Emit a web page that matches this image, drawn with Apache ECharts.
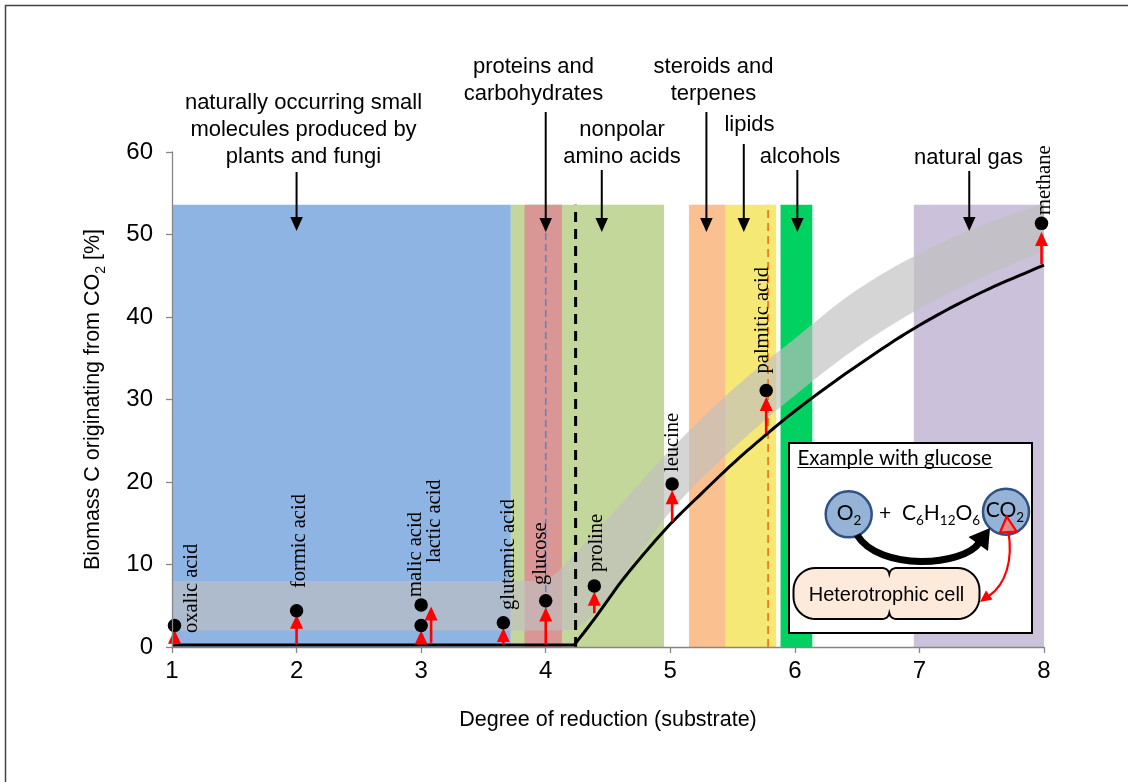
<!DOCTYPE html>
<html><head><meta charset="utf-8">
<script src="https://cdn.jsdelivr.net/npm/echarts@6/dist/echarts.min.js"></script>
<style>html,body{margin:0;padding:0;background:#fff}#c{width:1128px;height:782px}</style>
</head><body><div id="c"></div>
<script>
// ---------------- data ----------------
const xTicks = [1, 2, 3, 4, 5, 6, 7, 8];
const yTicks = [0, 10, 20, 30, 40, 50, 60];

// coloured compound-class bands (degree of reduction ranges)
const bandNames = ['small molecules', 'nonpolar amino acids', 'proteins and carbohydrates', 'steroids and terpenes', 'lipids', 'alcohols', 'natural gas'];
const bandStart = [1.0, 3.72, 3.83, 5.15, 5.445, 5.885, 6.955];
const bandEnd   = [3.72, 4.95, 4.13, 5.445, 5.85, 6.14, 8.0];
const bandTop = 53.6;

// group annotations (text above the plot, arrow x in degree of reduction)
const groupLabels = ['naturally occurring small\nmolecules produced by\nplants and fungi', 'proteins and\ncarbohydrates', 'nonpolar\namino acids', 'steroids and\nterpenes', 'lipids', 'alcohols', 'natural gas'];
const groupArrowX = [2.0, 4.0, 4.45, 5.29, 5.59, 6.02, 7.40];

// vertical reference lines: glucose, threshold, palmitic acid
const refLineX = [4.0, 4.24, 5.785];

// theoretical curve (black line)
const theoryX = [1.0, 4.23, 4.4, 4.6, 4.8, 5.0, 5.25, 5.5, 5.75, 6.0, 6.5, 7.0, 7.5, 8.0];
const theoryY = [0.25, 0.25, 3.6, 7.8, 11.5, 14.9, 18.6, 22.2, 25.5, 28.6, 34.1, 39.0, 43.0, 46.3];

// grey uncertainty band
const greyX     = [1.0, 3.95, 4.05, 4.2, 4.35, 4.5, 4.75, 5.0, 5.5, 6.0, 6.5, 7.0, 7.5, 8.0];
const greyUpper = [8.0, 8.0, 8.6, 10.8, 13.2, 15.6, 19.8, 23.9, 31.2, 37.4, 43.3, 47.7, 51.1, 53.8];
const greyLower = [2.0, 2.0, 2.0, 2.1, 3.5, 6.0, 11.3, 16.4, 24.0, 30.5, 36.3, 41.0, 44.8, 48.0];

// substrates (black dots)
const substrates = ['oxalic acid', 'formic acid', 'malic acid', 'lactic acid', 'glutamic acid', 'glucose', 'proline', 'leucine', 'palmitic acid', 'methane'];
const substrateX = [1.02, 2.0, 3.0, 3.0, 3.66, 4.0, 4.39, 5.015, 5.77, 7.98];
const substrateY = [2.6, 4.4, 5.1, 2.6, 2.95, 5.6, 7.4, 19.75, 31.1, 51.35];

// red arrows (from -> to)
const arrowX    = [1.02, 2.0, 3.0, 3.08, 3.66, 4.0, 4.39, 5.015, 5.77, 7.98];
const arrowFrom = [0.3, 0.3, 0.65, 0.5, 0.3, 0.3, 4.1, 15.2, 25.9, 46.4];
const arrowTo   = [2.1, 3.9, 2.0, 4.9, 2.3, 4.8, 6.7, 19.0, 30.3, 50.3];

// ---------------- styles / layout ----------------
const SANS = '"Liberation Sans", Arial, sans-serif';
const SERIF = '"Liberation Serif", "Times New Roman", serif';
const CAL = 'Lato, "Open Sans", sans-serif';
const bandColors = ['#8EB4E3', '#C4D79B', '#D99694', '#FAC090', '#F6E874', '#00D160', '#CCC1DA'];
const refLineStyles = [
  {color: '#4F86D0', width: 1.5, type: [7, 4]},
  {color: '#000000', width: 3, type: [10, 7]},
  {color: '#E46C0A', width: 1.5, type: [8, 5]}
];
const labelOffsets = [[17.5, 7.5], [3.4, -22.7], [-6, -8], [13, -62.5], [5.6, -12.7], [-4.7, -15.8], [2.7, -14], [0, -12], [-4, -17], [3.5, -8.4]];
const groupTextLayout = [ // [centre x px, centre y px, arrow top px, arrow tip px]
  [303.5, 130, 172, 231], [533.5, 80, 112, 232], [622, 143.5, 170, 232], [713.5, 80, 112, 232],
  [749.5, 125, 144, 232], [800, 157, 170, 232], [968.5, 158, 171, 231]
];

function arrowEls(x0, y0, x1, y1, color, lw, hl, hw, z) {
  const dx = x1 - x0, dy = y1 - y0, L = Math.hypot(dx, dy) || 1, ux = dx / L, uy = dy / L;
  const bx = x1 - ux * hl, by = y1 - uy * hl, px = -uy, py = ux;
  return [
    {type: 'line', z: z, silent: true, shape: {x1: x0, y1: y0, x2: bx + ux, y2: by + uy}, style: {stroke: color, lineWidth: lw}},
    {type: 'polygon', z: z, silent: true, shape: {points: [[x1, y1], [bx + px * hw / 2, by + py * hw / 2], [bx - px * hw / 2, by - py * hw / 2]]}, style: {fill: color}}
  ];
}

// monotone cubic sampling of a y(x) curve (rendering only; passes through the read points)
function monotoneSample(xs, ys, steps) {
  const n = xs.length, d = [], m = [];
  for (let k = 0; k < n - 1; k++) d.push((ys[k + 1] - ys[k]) / (xs[k + 1] - xs[k]));
  m[0] = d[0]; m[n - 1] = d[n - 2];
  for (let k = 1; k < n - 1; k++) m[k] = (d[k - 1] * d[k] <= 0) ? 0 : 2 / (1 / d[k - 1] + 1 / d[k]);
  const out = [];
  for (let k = 0; k < n - 1; k++) {
    const h = xs[k + 1] - xs[k];
    for (let s = 0; s < steps; s++) {
      const t = s / steps, t2 = t * t, t3 = t2 * t;
      const y = (2 * t3 - 3 * t2 + 1) * ys[k] + (t3 - 2 * t2 + t) * h * m[k] + (-2 * t3 + 3 * t2) * ys[k + 1] + (t3 - t2) * h * m[k + 1];
      out.push([xs[k] + t * h, y]);
    }
  }
  out.push([xs[n - 1], ys[n - 1]]);
  return out;
}

const chart = echarts.init(document.getElementById('c'), null, {renderer: 'canvas', width: 1128, height: 782});

const series = [];
// bands
series.push({
  type: 'custom', silent: true, clip: false, z: 2,
  data: bandStart.map((s, i) => [s, bandEnd[i], bandTop, i]),
  encode: {x: [0, 1], y: 2},
  renderItem: (params, api) => {
    const p0 = api.coord([api.value(0), api.value(2)]);
    const p1 = api.coord([api.value(1), 0]);
    return {type: 'rect', shape: {x: p0[0], y: p0[1], width: p1[0] - p0[0], height: p1[1] - p0[1]}, style: {fill: bandColors[api.value(3)]}};
  }
});
// grey band
series.push({
  type: 'custom', silent: true, clip: false, z: 2,
  data: [[greyX[0], greyLower[0]]],
  renderItem: (params, api) => {
    const up = monotoneSample(greyX, greyUpper, 10).map(p => api.coord(p));
    const lo = monotoneSample(greyX, greyLower, 10).map(p => api.coord(p)).reverse();
    return {type: 'polygon', shape: {points: up.concat(lo)}, style: {fill: 'rgba(191,191,191,0.66)'}};
  }
});
// reference dashed lines
refLineX.forEach((x, i) => {
  series.push({type: 'line', silent: true, symbol: 'none', z: 2, data: [[x, 0], [x, bandTop]], lineStyle: refLineStyles[i]});
});
// theoretical line: flat part + smoothly rendered rising part
series.push({
  type: 'custom', silent: true, clip: false, z: 3,
  data: [[theoryX[0], theoryY[0]]],
  renderItem: (params, api) => {
    const flat = [api.coord([theoryX[0], theoryY[0]])];
    const curve = monotoneSample(theoryX.slice(1), theoryY.slice(1), 10).map(p => api.coord(p));
    return {type: 'polyline', shape: {points: flat.concat(curve)}, style: {stroke: '#000', lineWidth: 3, fill: null, lineJoin: 'miter'}};
  }
});
// red arrows
series.push({
  type: 'custom', silent: true, clip: false, z: 4,
  data: arrowX.map((x, i) => [x, arrowFrom[i], arrowTo[i]]),
  encode: {x: 0, y: [1, 2]},
  renderItem: (params, api) => {
    const p0 = api.coord([api.value(0), api.value(1)]);
    const p1 = api.coord([api.value(0), api.value(2)]);
    return {type: 'group', children: arrowEls(p0[0], p0[1], p1[0], p1[1], '#FF0000', 2.6, 14, 13)};
  }
});
// dots
series.push({
  type: 'scatter', silent: true, symbolSize: 13.5, z: 5,
  data: substrateX.map((x, i) => [x, substrateY[i]]),
  itemStyle: {color: '#000', opacity: 1, borderWidth: 0}, emphasis: {disabled: true}
});
// substrate labels
series.push({
  type: 'custom', silent: true, clip: false, z: 5,
  data: substrateX.map((x, i) => [x, substrateY[i], i]),
  renderItem: (params, api) => {
    const i = api.value(2);
    const p = api.coord([api.value(0), api.value(1)]);
    return {type: 'text', x: p[0] + labelOffsets[i][0], y: p[1] + labelOffsets[i][1], rotation: Math.PI / 2,
      style: {text: substrates[i], fontFamily: SERIF, fontSize: 20.5, fill: '#000', align: 'left', verticalAlign: 'middle'}};
  }
});

chart.setOption({
  animation: false,
  grid: {left: 172, right: 84, top: 152, bottom: 135},
  xAxis: {
    type: 'value', min: 1, max: 8, interval: 1, z: 6,
    name: 'Degree of reduction (substrate)', nameLocation: 'middle', nameGap: 62,
    nameTextStyle: {fontFamily: SANS, fontSize: 21.5, color: '#000'},
    axisLine: {show: true, onZero: false, lineStyle: {color: '#868686', width: 1.3}},
    axisTick: {show: true, length: 6, lineStyle: {color: '#868686', width: 1.3}},
    axisLabel: {fontFamily: SANS, fontSize: 24, color: '#000', margin: 12, formatter: v => xTicks.includes(v) ? String(v) : ''},
    splitLine: {show: false}
  },
  yAxis: {
    type: 'value', min: 0, max: 60, interval: 10, z: 6,
    name: '{a|Biomass C originating from CO}{s|2}{a| [%]}', nameLocation: 'middle', nameGap: 64,
    nameTextStyle: {rich: {
      a: {fontFamily: SANS, fontSize: 21.5, color: '#000', lineHeight: 30},
      s: {fontFamily: SANS, fontSize: 14, color: '#000', lineHeight: 15, verticalAlign: 'bottom'}
    }},
    axisLine: {show: true, lineStyle: {color: '#868686', width: 1.3}},
    axisTick: {show: true, length: 6, lineStyle: {color: '#868686', width: 1.3}},
    axisLabel: {fontFamily: SANS, fontSize: 24, color: '#000', margin: 19, formatter: v => yTicks.includes(v) ? String(v) : ''},
    splitLine: {show: false}
  },
  series: series
});

// ---------------- graphics (annotations and inset) ----------------
const g = [];
// figure frame (top/left edges)
g.push({type: 'line', z: 20, silent: true, shape: {x1: 5, y1: 5.5, x2: 1128, y2: 5.5}, style: {stroke: '#444', lineWidth: 1.5}});
g.push({type: 'line', z: 20, silent: true, shape: {x1: 5.5, y1: 5, x2: 5.5, y2: 782}, style: {stroke: '#444', lineWidth: 1.5}});

groupLabels.forEach((t, i) => {
  const L = groupTextLayout[i];
  const ax = chart.convertToPixel({xAxisIndex: 0, yAxisIndex: 0}, [groupArrowX[i], 0])[0];
  g.push({type: 'text', z: 20, silent: true, x: L[0], y: L[1],
    style: {text: t, fontFamily: SANS, fontSize: 22, lineHeight: 27, fill: '#000', align: 'center', verticalAlign: 'middle', textAlign: 'center', textVerticalAlign: 'middle'}});
  arrowEls(ax, L[2], ax, L[3], '#000', 2, 14, 12.5, 20).forEach(e => g.push(e));
});

// inset
const Z = 30;
g.push({type: 'rect', z: Z, silent: true, shape: {x: 789, y: 443, width: 243, height: 190}, style: {fill: '#fff', stroke: '#000', lineWidth: 2}});
g.push({type: 'text', z: Z, silent: true, x: 797.5, y: 458,
  style: {text: 'Example with glucose', fontFamily: CAL, fontSize: 20.5, fill: '#000', align: 'left', verticalAlign: 'middle', textAlign: 'left', textVerticalAlign: 'middle'}});
g.push({type: 'line', z: Z, silent: true, shape: {x1: 797.5, y1: 467.5, x2: 992.5, y2: 467.5}, style: {stroke: '#000', lineWidth: 1.2}});
// circles
g.push({type: 'circle', z: Z, silent: true, shape: {cx: 848.7, cy: 514.3, r: 23}, style: {fill: '#95B3D7', stroke: '#2F5283', lineWidth: 2.5}});
g.push({type: 'circle', z: Z, silent: true, shape: {cx: 1006, cy: 511.7, r: 23}, style: {fill: '#95B3D7', stroke: '#2F5283', lineWidth: 2.5}});
const richSub = {
  a: {fontFamily: CAL, fontSize: 21, lineHeight: 29, fill: '#000', color: '#000'},
  s: {fontFamily: CAL, fontSize: 13.5, lineHeight: 13.5, fill: '#000', color: '#000', verticalAlign: 'bottom'}
};
g.push({type: 'text', z: Z + 1, silent: true, x: 849, y: 513, style: {text: '{a|O}{s|2}', rich: richSub, align: 'center', verticalAlign: 'middle', textAlign: 'center', textVerticalAlign: 'middle'}});
g.push({type: 'text', z: Z + 1, silent: true, x: 1005, y: 510, style: {text: '{a|CO}{s|2}', rich: richSub, align: 'center', verticalAlign: 'middle', textAlign: 'center', textVerticalAlign: 'middle'}});
g.push({type: 'text', z: Z + 1, silent: true, x: 879, y: 513, style: {text: '{a|+  C}{s|6}{a|H}{s|12}{a|O}{s|6}', rich: richSub, align: 'left', verticalAlign: 'middle', textAlign: 'left', textVerticalAlign: 'middle'}});
// black curved arrow
g.push({type: 'bezierCurve', z: Z, silent: true, shape: {x1: 857, y1: 535, cpx1: 880, cpy1: 572, cpx2: 963, cpy2: 566, x2: 979, y2: 543}, style: {stroke: '#000', lineWidth: 7, fill: null}});
g.push({type: 'polygon', z: Z, silent: true, shape: {points: [[990, 528], [988, 551], [968.5, 537]]}, style: {fill: '#000'}});
// cell
(function () {
  const x0 = 793.5, x1 = 979.5, y0 = 568, y1 = 619, r = 22, cx = 889.3, notch = 6, nw = 8;
  const pts = [];
  const arc = (ccx, ccy, a0, a1) => { for (let k = 0; k <= 10; k++) { const a = a0 + (a1 - a0) * k / 10; pts.push([ccx + r * Math.cos(a), ccy + r * Math.sin(a)]); } };
  const quad = (p0, c, p1) => { for (let k = 0; k <= 8; k++) { const t = k / 8; pts.push([(1 - t) * (1 - t) * p0[0] + 2 * (1 - t) * t * c[0] + t * t * p1[0], (1 - t) * (1 - t) * p0[1] + 2 * (1 - t) * t * c[1] + t * t * p1[1]]); } };
  arc(x0 + r, y0 + r, Math.PI, Math.PI * 1.5);
  quad([cx - nw, y0], [cx - 1, y0], [cx, y0 + notch]);
  quad([cx, y0 + notch], [cx + 1, y0], [cx + nw, y0]);
  arc(x1 - r, y0 + r, -Math.PI / 2, 0);
  arc(x1 - r, y1 - r, 0, Math.PI / 2);
  quad([cx + nw, y1], [cx + 1, y1], [cx, y1 - notch]);
  quad([cx, y1 - notch], [cx - 1, y1], [cx - nw, y1]);
  arc(x0 + r, y1 - r, Math.PI / 2, Math.PI);
  g.push({type: 'polygon', z: Z, silent: true, shape: {points: pts}, style: {fill: '#FDEADA', stroke: '#000', lineWidth: 2}});
})();
g.push({type: 'text', z: Z + 1, silent: true, x: 886.5, y: 595, style: {text: 'Heterotrophic cell', fontFamily: SANS, fontSize: 20, fill: '#000', align: 'center', verticalAlign: 'middle', textAlign: 'center', textVerticalAlign: 'middle'}});
// red double arrow
g.push({type: 'bezierCurve', z: Z + 2, silent: true, shape: {x1: 1008.5, y1: 532, cpx1: 1013, cpy1: 560, cpx2: 1006, cpy2: 584, x2: 989, y2: 596}, style: {stroke: '#FF0000', lineWidth: 2.2, fill: null}});
g.push({type: 'polygon', z: Z + 2, silent: true, shape: {points: [[980, 602], [986, 590.5], [992.5, 599.5]]}, style: {fill: '#FF0000'}});
g.push({type: 'polygon', z: Z + 2, silent: true, shape: {points: [[1006.7, 516.5], [1000, 532.5], [1016.5, 531.5]]}, style: {fill: '#DC8C8C', stroke: '#FF0000', lineWidth: 2.2}});

chart.setOption({graphic: {elements: g}});
</script>
</body></html>
